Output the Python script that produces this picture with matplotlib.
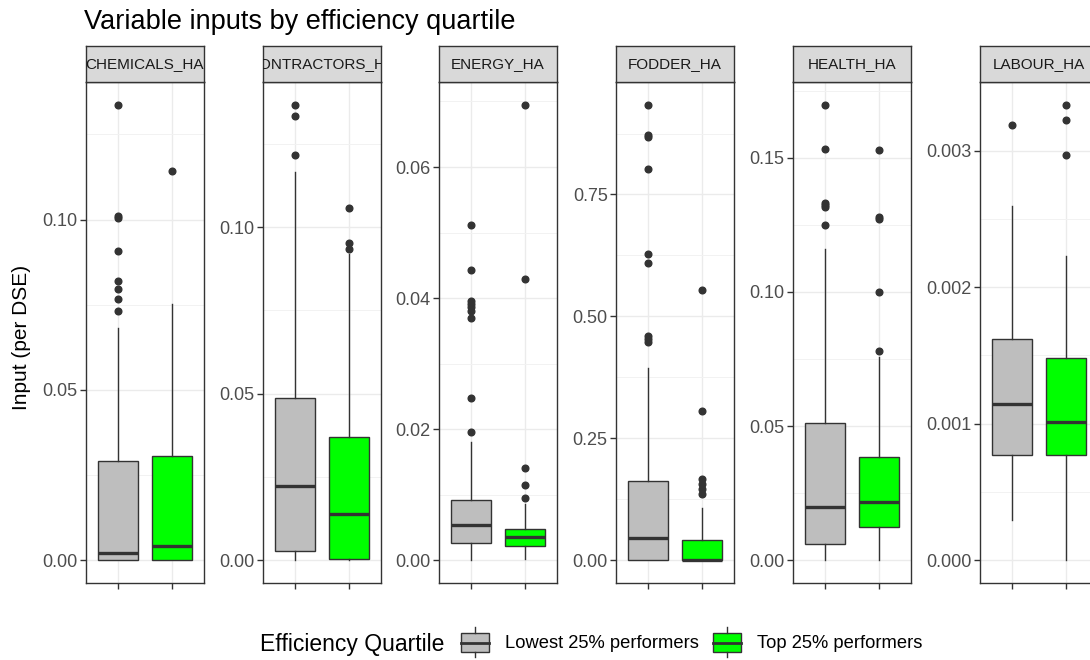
import matplotlib
matplotlib.use("Agg")
import matplotlib.pyplot as plt
from matplotlib.patches import Rectangle
from matplotlib.ticker import FixedLocator, FormatStrFormatter

plt.rcParams['font.family'] = ['Liberation Sans', 'DejaVu Sans']

# boxplot summaries per input, read as (q1, median, q3, whisker low, whisker high)
facets = ["CHEMICALS_HA", "CONTRACTORS_HA", "ENERGY_HA", "FODDER_HA", "HEALTH_HA", "LABOUR_HA"]
groups = ["Lowest 25% performers", "Top 25% performers"]

low_q1 = [0.0, 0.0027, 0.0027, 0.0, 0.0062, 0.000771]
low_med = [0.0021, 0.0222, 0.0054, 0.046, 0.0198, 0.001142]
low_q3 = [0.0290, 0.0486, 0.0092, 0.162, 0.0510, 0.001624]
low_lo = [0.0, 0.0, 0.0, 0.0, 0.0, 0.000295]
low_hi = [0.0681, 0.1166, 0.0180, 0.395, 0.1161, 0.002596]
low_out = [
    [0.1337, 0.1010, 0.1005, 0.0909, 0.0820, 0.0795, 0.0766, 0.0732],
    [0.1367, 0.1333, 0.1216],
    [0.0512, 0.0443, 0.0396, 0.0391, 0.0386, 0.0381, 0.0369, 0.0248, 0.0196],
    [0.934, 0.873, 0.867, 0.803, 0.629, 0.610, 0.460, 0.453, 0.447],
    [0.1697, 0.1532, 0.1332, 0.1323, 0.1315, 0.1249],
    [0.003185],
]

top_q1 = [0.0, 0.0005, 0.0022, 0.0, 0.0124, 0.000771]
top_med = [0.0041, 0.0138, 0.0035, 0.001, 0.0217, 0.001016]
top_q3 = [0.0305, 0.0371, 0.0048, 0.042, 0.0384, 0.001480]
top_lo = [0.0, 0.0, 0.0002, 0.0, 0.0, 0.0]
top_hi = [0.0753, 0.0918, 0.0086, 0.107, 0.0756, 0.002228]
top_out = [
    [0.1143],
    [0.1056, 0.0953, 0.0933],
    [0.0695, 0.0429, 0.0141, 0.0115, 0.0095],
    [0.554, 0.307, 0.167, 0.157, 0.147, 0.136],
    [0.1530, 0.1278, 0.1272, 0.1001, 0.0780],
    [0.003336, 0.003221, 0.002971],
]

y_ticks = [
    [0.0, 0.05, 0.10],
    [0.0, 0.05, 0.10],
    [0.0, 0.02, 0.04, 0.06],
    [0.0, 0.25, 0.50, 0.75],
    [0.0, 0.05, 0.10, 0.15],
    [0.0, 0.001, 0.002, 0.003],
]
y_fmt = ["%.2f", "%.2f", "%.2f", "%.2f", "%.2f", "%.3f"]

fills = ["#BEBEBE", "#00FF00"]
edge = "#333333"

W, H = 1090, 660
fig = plt.figure(figsize=(W / 100, H / 100), dpi=100)

panel_left = [86, 263, 439, 616, 793, 980]
panel_w = 118
strip_top, panel_top, panel_bot = 46, 82, 583


def fig_rect(x0, y0, x1, y1):
    return [x0 / W, 1 - y1 / H, (x1 - x0) / W, (y1 - y0) / H]


for i, name in enumerate(facets):
    x0 = panel_left[i]
    ax = fig.add_axes(fig_rect(x0, panel_top, x0 + panel_w, panel_bot))
    stats = [
        dict(q1=low_q1[i], med=low_med[i], q3=low_q3[i], whislo=low_lo[i], whishi=low_hi[i], fliers=low_out[i]),
        dict(q1=top_q1[i], med=top_med[i], q3=top_q3[i], whislo=top_lo[i], whishi=top_hi[i], fliers=top_out[i]),
    ]
    bp = ax.bxp(stats, positions=[1, 2], widths=0.75, patch_artist=True, showcaps=False,
                boxprops=dict(edgecolor=edge, linewidth=1.0),
                medianprops=dict(color=edge, linewidth=2.4, solid_capstyle="butt"),
                whiskerprops=dict(color=edge, linewidth=1.0),
                flierprops=dict(marker="o", markerfacecolor=edge, markeredgecolor=edge, markersize=4.8),
                zorder=3)
    for patch, c in zip(bp["boxes"], fills):
        patch.set_facecolor(c)

    # free y scale per facet, 5% padding like ggplot
    vals = low_out[i] + top_out[i] + [low_lo[i], top_lo[i], low_hi[i], top_hi[i]]
    lo, hi = min(vals), max(vals)
    pad = (hi - lo) * 0.05
    ax.set_ylim(lo - pad, hi + pad)
    ax.set_xlim(0.4, 2.6)

    ticks = y_ticks[i]
    step = ticks[1] - ticks[0]
    minors = [t + step / 2 for t in [ticks[0] - step] + ticks]
    ax.yaxis.set_major_locator(FixedLocator(ticks))
    ax.yaxis.set_minor_locator(FixedLocator(minors))
    ax.yaxis.set_major_formatter(FormatStrFormatter(y_fmt[i]))
    ax.set_xticks([1, 2])
    ax.set_xticklabels(["", ""])
    ax.tick_params(axis="both", which="major", color=edge, length=4, width=1,
                   labelsize=13, labelcolor="#4D4D4D", pad=2)
    ax.tick_params(axis="y", which="minor", length=0)
    ax.grid(True, which="major", color="#EBEBEB", linewidth=1.0, zorder=0)
    ax.grid(True, which="minor", axis="y", color="#F2F2F2", linewidth=0.7, zorder=0)
    ax.set_axisbelow(True)
    for s in ax.spines.values():
        s.set_color(edge)
        s.set_linewidth(1.0)

    sax = fig.add_axes(fig_rect(x0, strip_top, x0 + panel_w, panel_top))
    sax.set_facecolor("#D9D9D9")
    sax.set_xticks([])
    sax.set_yticks([])
    for s in sax.spines.values():
        s.set_color(edge)
        s.set_linewidth(1.0)
    sax.text(0.5, 0.5, name, transform=sax.transAxes, ha="center", va="center",
             fontsize=11, color="#1A1A1A", clip_on=True)

# title, axis label and legend on a pixel-space overlay
ov = fig.add_axes([0, 0, 1, 1], zorder=-1)
ov.set_xlim(0, W)
ov.set_ylim(H, 0)
ov.axis("off")

ov.text(84, 29, "Variable inputs by efficiency quartile", fontsize=19.5, color="black", va="baseline")
ov.text(22, 337, "Input (per DSE)", fontsize=15, rotation=90, ha="center", va="center")

ov.text(260, 644, "Efficiency Quartile", fontsize=16.5, va="center")
key_x = [461, 713]
text_x = [505, 757]
for kx, tx, c, lab in zip(key_x, text_x, fills, groups):
    ov.add_patch(Rectangle((kx, 633), 28, 19, facecolor=c, edgecolor=edge, linewidth=1.0))
    ov.plot([kx, kx + 28], [642.5, 642.5], color=edge, linewidth=2.0)
    ov.plot([kx + 14, kx + 14], [627, 633], color=edge, linewidth=1.0)
    ov.plot([kx + 14, kx + 14], [652, 657], color=edge, linewidth=1.0)
    ov.text(tx, 644, lab, fontsize=13.2, va="center", color="black")

fig.savefig("out.png", dpi=100, facecolor="white")
